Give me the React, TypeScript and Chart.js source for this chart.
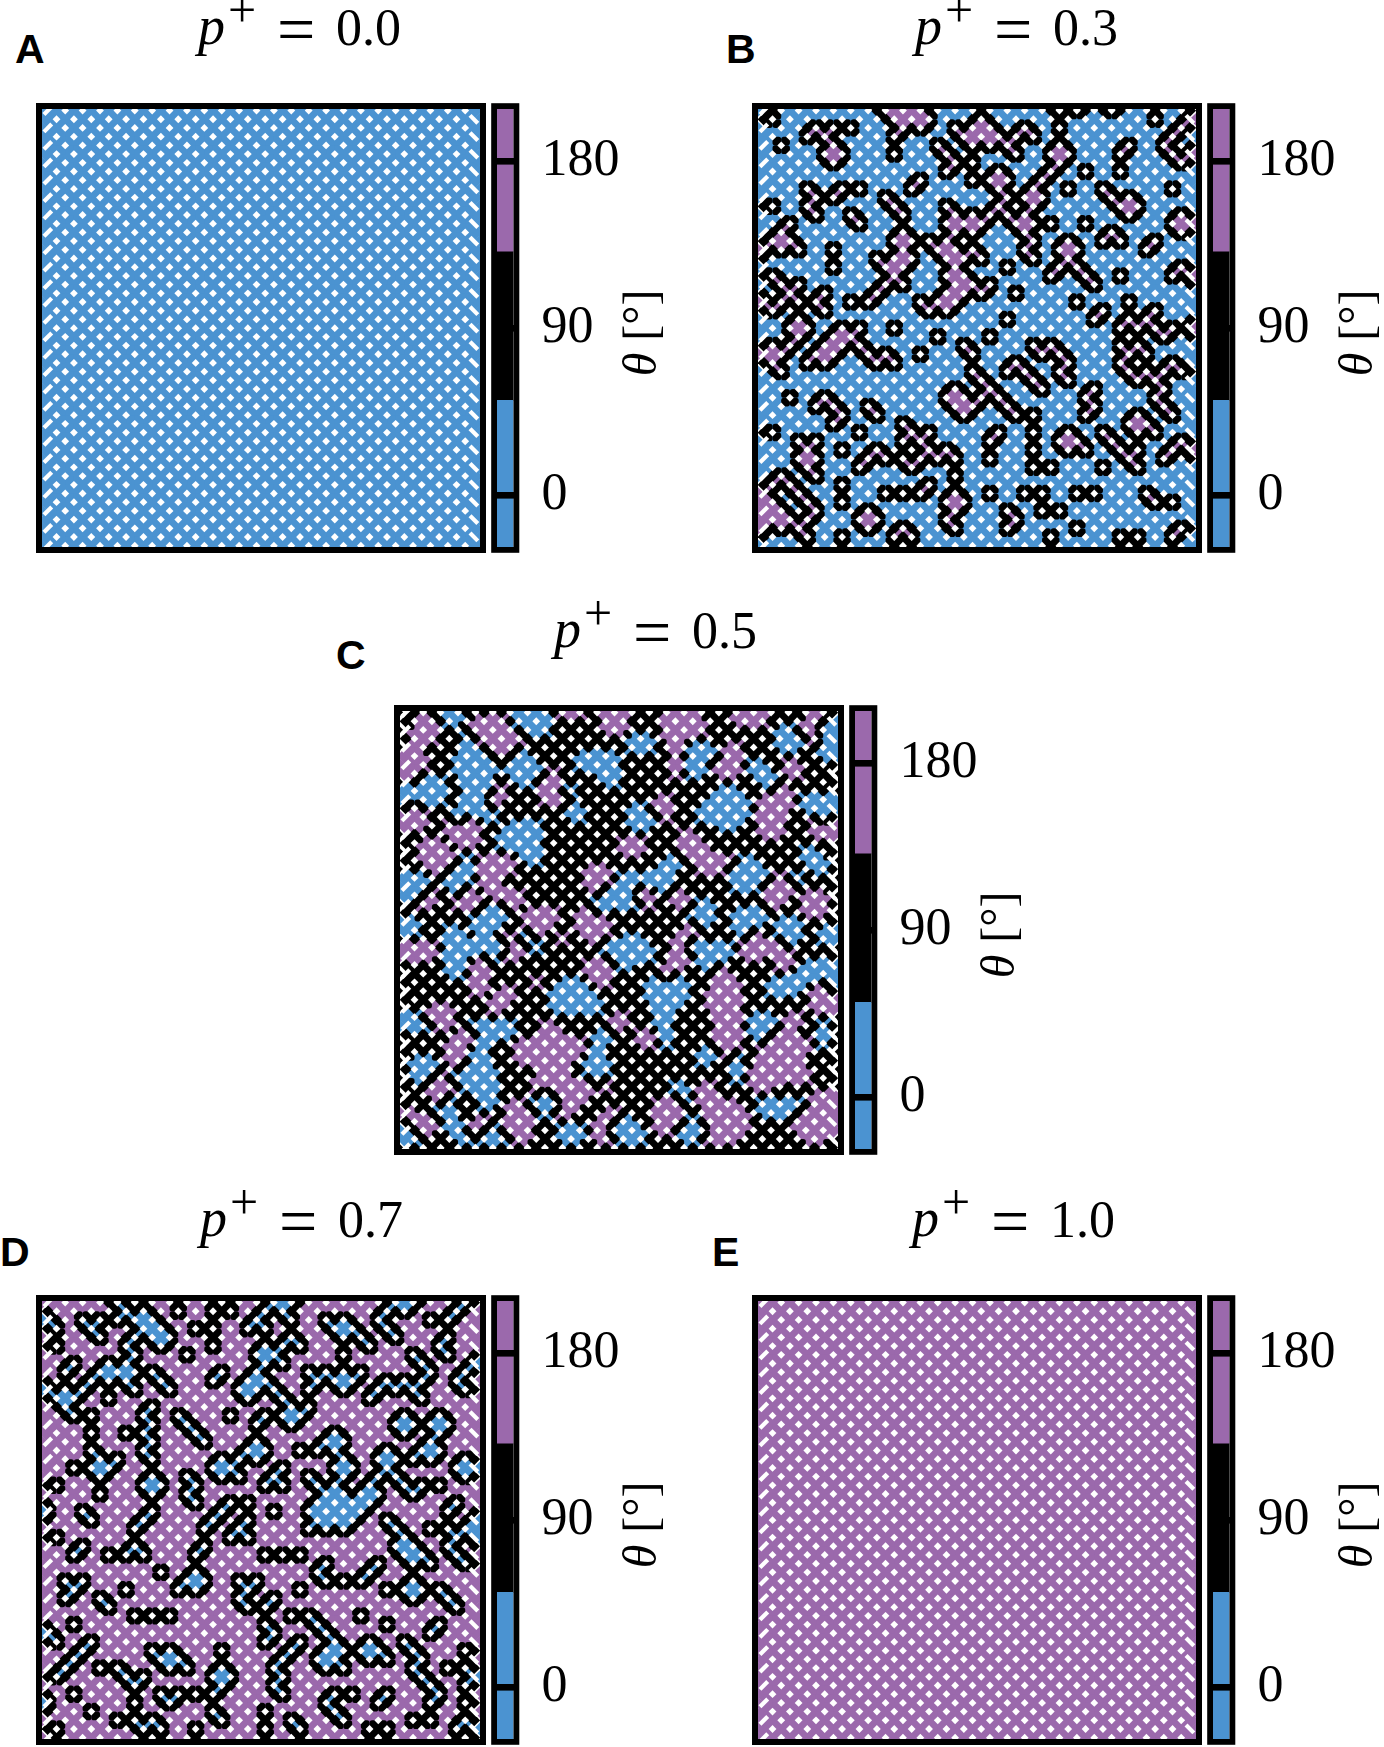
import React, { useEffect, useRef } from "react";
import { Chart, registerables } from "chart.js";
Chart.register(...registerables);

const BLUE = "#4b93d1";
const PURPLE = "#9b69ac";
const BLACK = "#000000";

const P_VALUES = ["0.0", "0.3", "0.5", "0.7", "1.0"];
const PANEL_LETTERS = ["A", "B", "C", "D", "E"];
const BAR_TICKS = [0, 90, 180];
const BAR_LOWS = [-28, 51, 131];
const BAR_HIGHS = [51, 131, 208];
const BAR_COLORS = [BLUE, BLACK, PURPLE];

// panel B: sites in the 180 state, per row [row, columns...]
const B_ROWS: number[][] = [
  [1, 15, 17, 19, 35, 37, 41],
  [2, 2, 16, 18, 20, 26, 46, 50],
  [3, 7, 9, 11, 17, 19, 23, 25, 27, 31, 35, 49],
  [4, 6, 8, 16, 24, 26, 28, 30, 32, 48],
  [5, 3, 9, 21, 25, 27, 29, 35, 43, 47],
  [6, 8, 10, 16, 22, 30, 34, 36, 42, 48, 50],
  [7, 9, 23, 25, 35, 49],
  [8, 22, 28, 34, 38, 42],
  [9, 19, 25, 27, 29, 33],
  [10, 6, 10, 12, 18, 28, 32, 36, 40, 48],
  [11, 7, 9, 15, 29, 31, 33, 41, 43],
  [12, 2, 6, 16, 22, 28, 32, 42, 44],
  [13, 7, 11, 17, 23, 25, 27, 29, 31, 43, 49],
  [14, 4, 12, 22, 24, 26, 30, 32, 34, 38, 48, 50],
  [15, 3, 17, 23, 25, 31, 41, 49],
  [16, 2, 4, 16, 18, 20, 22, 32, 36, 40, 42, 46],
  [17, 1, 3, 5, 9, 17, 21, 23, 25, 31, 35, 37, 45],
  [18, 14, 16, 18, 22, 24, 26, 32, 36],
  [19, 9, 15, 17, 23, 29, 35, 37, 49],
  [20, 2, 16, 22, 24, 34, 38, 42, 48, 50],
  [21, 3, 5, 15, 17, 23, 25, 27, 39],
  [22, 4, 8, 14, 22, 24, 26, 30],
  [23, 1, 3, 5, 7, 11, 13, 19, 21, 23, 37, 43],
  [24, 2, 8, 20, 22, 40, 46],
  [25, 5, 29, 39, 43, 45],
  [26, 4, 6, 10, 12, 16, 42, 44, 46, 48, 50],
  [27, 5, 9, 11, 21, 27, 47],
  [28, 2, 4, 8, 10, 12, 24, 32, 34, 42, 44],
  [29, 1, 3, 7, 9, 13, 15, 19, 25, 33, 35, 43, 45],
  [30, 2, 6, 8, 14, 16, 30, 36, 42, 48],
  [31, 3, 25, 29, 31, 35, 43, 45, 47, 49],
  [32, 26, 32, 36, 44, 46],
  [33, 23, 27, 33, 39, 47],
  [34, 4, 8, 22, 24, 26, 28, 38, 46],
  [35, 7, 9, 13, 23, 25, 29, 39, 47],
  [36, 10, 14, 24, 30, 32, 38, 44, 48],
  [37, 9, 17, 43, 45],
  [38, 2, 12, 18, 20, 28, 32, 36, 40, 44, 46],
  [39, 5, 7, 17, 19, 27, 35, 37, 41, 49],
  [40, 6, 10, 14, 20, 22, 32, 36, 38, 42, 44, 48, 50],
  [41, 5, 7, 13, 15, 17, 19, 21, 23, 27, 43, 47],
  [42, 6, 12, 18, 32, 34, 40, 44],
  [43, 3, 7, 23],
  [44, 2, 4, 10, 20],
  [45, 1, 5, 15, 17, 19, 23, 27, 31, 33, 37, 39, 45],
  [46, 2, 6, 10, 22, 24, 46, 48],
  [47, 1, 3, 7, 13, 23, 29, 33, 35],
  [48, 2, 4, 6, 12, 14, 22, 30],
  [49, 1, 3, 5, 13, 17, 23, 29, 37, 49],
  [50, 6, 10, 16, 18, 34, 42, 44, 48],
];

// panel D: sites in the 0 state, as column,row pairs
const D_SITES = `1,3 2,4 2,6 5,3 7,3 7,5 6,4 9,3 9,1 10,2 12,2 11,3 13,3 12,4 13,5 14,4 15,5 14,6 16,2 18,4 20,2 22,2 20,4 20,6 17,7 10,6 11,5 11,7 10,8 11,9 13,9 14,10 15,11 11,11 10,10 3,9 4,8 8,8 7,9 9,9 8,10 6,10 5,11 4,12 3,11 2,12 3,13 1,11 8,12 10,16 6,16 6,14 4,14 13,13 12,14 13,15 12,16 13,17 12,18 13,19 16,14 17,15 18,16 19,17 7,19 6,20 8,20 7,21 9,19 4,20 6,18 2,22 7,23 13,21 12,22 14,22 13,23 25,17 24,18 26,18 25,19 25,15 26,14 22,14 20,20 22,20 21,21 23,21 21,19 23,19 27,21 26,22 28,22 28,20 17,21 18,22 17,23 18,24 27,25 30,18 32,18 34,18 35,17 34,16 33,17 35,19 34,20 36,20 35,21 38,22 37,23 39,23 38,24 37,25 36,26 33,23 35,23 34,22 32,24 34,24 36,24 33,25 35,25 32,26 34,26 33,27 35,27 31,25 31,27 31,21 32,22 39,19 40,18 40,20 39,21 41,21 41,19 43,19 42,22 43,23 44,22 42,14 41,15 43,15 42,16 46,14 45,15 47,15 46,16 45,17 44,18 46,18 45,19 49,19 48,20 50,20 49,21 46,22 41,1 40,2 42,2 43,1 39,3 40,4 41,5 45,3 49,1 48,2 47,3 46,6 47,5 47,7 43,7 44,8 45,9 44,10 43,11 44,12 48,10 49,11 49,9 50,8 33,3 34,4 36,4 35,5 37,5 38,6 35,3 35,7 30,6 28,6 29,5 26,6 25,7 26,8 28,8 27,7 25,9 25,3 26,4 24,4 26,2 27,1 29,1 28,2 29,3 20,10 21,9 23,11 24,10 26,10 25,11 27,11 24,12 28,12 29,13 28,14 30,14 31,13 29,15 32,10 31,11 31,9 33,9 35,9 37,9 34,10 36,10 35,11 39,11 40,10 42,10 38,12 41,11 5,25 6,26 1,25 2,28 4,30 5,29 8,30 10,30 11,29 11,27 12,26 13,25 12,30 14,32 10,34 5,33 3,33 4,34 3,35 7,35 8,36 11,37 13,37 15,37 4,38 1,39 2,40 5,41 4,42 3,43 2,44 6,40 7,43 9,43 10,44 12,44 11,45 15,41 14,42 16,42 15,43 13,41 17,43 18,46 21,43 20,44 22,44 21,45 21,41 21,49 20,48 20,46 28,44 27,45 28,46 27,43 26,48 26,50 29,49 30,50 38,50 40,50 49,49 43,49 45,49 48,50 50,50 49,47 33,47 34,46 36,46 34,48 35,49 39,47 40,46 42,40 43,41 44,42 43,43 44,44 45,45 46,46 45,47 49,43 50,44 49,45 47,43 49,41 38,40 37,41 39,41 38,42 40,42 33,41 35,41 34,40 32,42 34,42 33,43 35,43 32,38 33,39 31,37 29,41 30,40 28,42 26,38 27,39 26,40 29,37 37,37 40,38 46,38 45,39 43,33 42,34 44,34 43,35 40,34 47,35 48,36 46,34 45,31 42,30 43,29 41,29 44,30 43,31 47,29 48,30 49,31 48,24 47,25 50,26 49,27 50,28 48,28 45,27 47,27 42,28 41,27 40,26 38,32 39,31 35,33 33,31 32,32 33,33 37,33 30,34 26,30 28,30 30,30 23,33 25,33 23,35 24,34 24,36 27,35 26,36 19,29 18,30 19,27 20,26 21,25 22,24 23,27 24,28 22,28 24,26 24,24 18,32 17,33 19,33 16,34 18,34 4,46 6,48 2,50 18,50 9,49 11,49 13,49 11,47 12,50 14,50 15,47 14,46 16,46 1,47`;

// panel C: sites read as 0 and as 180, everything else is in the 90 state
const C_BLUE_SITES = `15,1 17,1 14,2 16,2 15,3 17,3 6,0 5,1 7,1 6,2 8,4 9,7 8,6 10,6 7,7 11,7 8,8 10,8 9,9 8,10 10,10 9,11 8,12 7,13 14,6 13,7 15,7 14,8 16,8 15,9 3,9 5,9 2,10 4,10 1,11 3,11 5,11 24,6 23,7 25,7 22,6 21,7 24,8 25,9 28,4 27,5 29,5 35,5 34,6 36,6 35,7 34,8 45,3 44,4 46,4 45,5 49,5 50,4 50,6 49,3 50,2 41,7 42,8 43,9 38,10 37,11 39,11 36,12 38,12 40,12 35,13 37,13 39,13 38,14 47,11 49,11 48,12 50,12 49,13 28,12 27,13 29,13 28,14 20,10 20,12 21,13 13,15 15,15 14,14 16,14 12,16 14,16 16,16 15,17 16,18 10,12 11,13 7,19 8,18 8,20 6,20 7,21 2,20 1,21 3,21 2,22 24,22 23,23 25,23 27,23 26,22 26,20 28,20 27,21 30,20 31,19 32,18 31,21 40,18 39,19 41,19 40,20 42,20 41,21 39,21 47,17 48,18 49,19 46,20 35,23 34,24 36,24 35,25 39,25 40,24 42,24 41,25 40,26 44,26 46,26 45,25 45,27 49,27 50,26 10,24 9,25 11,25 12,24 10,26 11,29 10,28 12,28 7,27 6,26 7,29 6,28 6,30 7,31 8,28 2,26 1,25 26,28 27,27 25,29 27,29 26,30 24,28 28,28 29,29 34,28 35,29 37,29 36,28 38,28 36,30 16,28 15,27 20,32 19,33 21,33 20,34 18,34 22,34 19,35 21,35 23,35 30,32 29,33 31,33 33,33 30,34 32,34 31,35 30,36 32,32 31,37 31,39 43,33 44,32 45,33 46,32 47,31 48,30 49,31 50,32 50,30 9,37 11,37 12,38 13,37 10,38 9,41 10,40 10,42 8,42 9,43 11,43 10,44 11,45 7,43 8,44 10,46 3,41 2,42 4,42 3,43 41,37 42,36 43,37 42,38 39,41 39,43 22,42 23,41 24,42 23,43 23,39 24,38 32,44 33,45 32,46 35,41 36,40 17,47 16,46 18,46 17,45 6,46 5,47 6,48 26,48 27,49 28,50 26,50 25,49 34,48 35,49 33,49 34,50 2,50 1,49 11,49 12,50 10,50 19,49 20,50 21,49 43,47 42,46 44,46 45,47 46,46 49,37 49,39 2,36 3,37 1,37 8,50 7,49`;
const C_PURPLE_SITES = `3,3 2,4 4,4 3,1 4,2 2,6 1,7 2,8 3,7 9,3 11,3 10,2 12,2 10,4 12,4 11,5 13,5 12,6 14,4 19,1 20,0 21,1 22,0 24,2 25,1 26,2 25,3 24,0 31,1 33,1 32,0 32,2 34,2 31,3 33,3 35,3 36,0 32,4 41,1 40,2 42,2 39,1 48,2 47,3 49,1 48,4 38,6 37,7 39,7 38,8 39,5 32,6 32,8 18,8 17,9 18,10 19,11 17,11 12,10 11,11 2,12 1,13 3,13 2,14 8,14 7,15 9,15 6,14 8,16 4,16 4,18 5,17 3,17 5,19 6,18 31,11 31,13 30,12 43,11 44,10 42,12 44,12 45,11 46,8 45,7 48,14 49,15 50,14 43,15 44,14 42,14 33,15 34,16 35,17 33,17 35,19 36,18 37,19 38,18 27,17 26,16 28,16 23,19 22,20 24,20 23,21 29,23 28,22 32,22 33,23 10,18 12,18 11,19 13,19 10,20 11,21 12,22 13,23 14,22 8,22 7,23 9,23 3,23 4,22 15,25 17,25 16,24 18,24 16,26 22,24 21,25 23,25 22,26 24,26 23,27 19,27 48,22 47,23 49,23 48,24 44,20 43,21 43,23 44,22 45,21 33,27 34,26 40,28 41,27 42,28 41,29 2,28 3,29 1,29 4,28 9,31 10,30 9,33 10,32 22,30 23,31 24,30 24,32 32,28 32,30 31,31 33,29 45,29 44,28 44,30 38,32 37,33 39,33 38,34 36,34 37,35 39,35 38,36 37,37 39,37 38,38 37,31 49,33 48,34 50,34 49,35 46,36 45,37 12,34 11,35 13,33 5,35 4,36 6,36 5,37 7,39 6,40 7,41 8,38 15,39 14,40 16,40 15,41 17,41 19,41 18,38 17,39 20,40 19,39 21,39 17,37 25,37 26,36 29,39 28,38 17,43 19,43 16,44 18,44 20,44 22,44 19,45 21,45 24,44 20,46 19,47 27,42 29,42 31,42 33,42 35,42 28,43 36,44 35,45 36,46 36,48 31,47 30,46 32,46 31,49 32,48 30,48 5,43 4,44 6,44 5,45 14,48 13,47 15,47 14,46 13,49 15,49 14,50 2,48 3,49 1,47 4,48 24,48 23,49 25,47 24,50 38,46 39,47 37,47 38,48 40,48 37,49 39,49 38,50 36,50 43,41 42,42 44,40 44,42 45,41 43,43 42,44 41,43 45,43 46,42 47,43 46,40 47,39 43,39 42,40 44,38 45,39 49,47 48,46 48,48 50,46 49,45 47,47 49,49 48,50 46,48 47,49 50,48 38,40 37,39 39,39 16,32 13,27 14,28 13,29 9,49 10,48`;

const parsePairs = (s: string) => s.trim().split(/\s+/).map((p) => p.split(",").map(Number));
const rowsToPairs = (rows: number[][]) => rows.flatMap(([j, ...is]) => is.map((i) => [i, j]));

// lattice extent and state codes
const I_MAX = 50;
const J_MAX = 51;
const S_BLUE = 0, S_PURPLE = 1, S_MIX = 2;

function buildDatasets(defaultState: number, lists: [number, number[][]][]) {
  const st = new Map<string, number>();
  const key = (i: number, j: number) => i + "," + j;
  for (let j = 1; j <= J_MAX; j++) for (let i = 1; i <= I_MAX; i++) if ((i + j) % 2 === 0) st.set(key(i, j), defaultState);
  for (const [state, pairs] of lists) for (const [i, j] of pairs) if (st.has(key(i, j))) st.set(key(i, j), state);

  const tileB: any[] = [], tileP: any[] = [], tileK: any[] = [];
  for (let j = 0; j <= J_MAX + 1; j++) for (let i = 0; i <= I_MAX + 1; i++) {
    if ((i + j) % 2 === 0) continue;
    const c = [key(i - 1, j), key(i + 1, j), key(i, j - 1), key(i, j + 1)].map((k) => st.get(k)).filter((v) => v !== undefined);
    const nb = c.filter((v) => v === S_BLUE).length, np = c.filter((v) => v === S_PURPLE).length;
    const nm = c.filter((v) => v === S_MIX).length;
    const p = { x: i, y: j };
    if (!c.length) continue;
    if (nb === c.length || (nb >= 3 && defaultState !== S_PURPLE) || (nb >= 2 && np === 0 && nm > 0)) tileB.push(p);
    else if (np === c.length || (np >= 3 && defaultState !== S_BLUE) || (np >= 2 && nb === 0 && nm > 0)) tileP.push(p);
    else tileK.push(p);
  }
  const bondB: any[] = [], bondP: any[] = [], bondK: any[] = [];
  const holes: any[] = [], left: any[] = [], right: any[] = [];
  st.forEach((v, k) => {
    const [i, j] = k.split(",").map(Number);
    if (i === 1) left.push({ x: i, y: j });
    else if (i === I_MAX) right.push({ x: i, y: j });
    else holes.push({ x: i, y: j });
    for (const [a, b] of [[1, 1], [1, -1]]) {
      const o = st.get(key(i + a, j + b));
      if (o === undefined) continue;
      const p = { x: i + a / 2, y: j + b / 2 };
      const lo = Math.min(v, o as number), hi = Math.max(v, o as number);
      if (lo === S_BLUE && (hi === S_BLUE || hi === S_MIX)) bondB.push(p);
      else if (lo === S_PURPLE && (hi === S_PURPLE || hi === S_MIX)) bondP.push(p);
      else bondK.push(p);
    }
  });
  const layer = (data: any[], color: string, style: string, radius: number, extra: any = {}) => ({
    type: "scatter", data, showLine: false, clip: 0, pointStyle: style, pointRadius: radius, pointHoverRadius: radius,
    pointBackgroundColor: color, pointBorderColor: color, pointBorderWidth: 0, ...extra,
  });
  return [
    layer(holes, "#ffffff", "rectRot", 3.9, { order: 1 }),
    layer(left, "#ffffff", "line", 5.5, { order: 1, pointBorderWidth: 4.2, pointBorderColor: "#ffffff", pointRotation: -45 }),
    layer(right, "#ffffff", "line", 5.5, { order: 1, pointBorderWidth: 4.2, pointBorderColor: "#ffffff", pointRotation: 45 }),
    layer(bondK, BLACK, "rectRounded", 5.1, { order: 2 }),
    layer(tileK, BLACK, "rectRot", 6.2, { order: 3 }),
    layer(bondB, BLUE, "rect", 6.3, { order: 4 }),
    layer(bondP, PURPLE, "rect", 6.3, { order: 4 }),
    layer(tileB, BLUE, "rectRot", 9, { order: 5 }),
    layer(tileP, PURPLE, "rectRot", 9, { order: 5 }),
  ];
}

const framePlugin = (lw: number) => ({
  id: "frame",
  afterDraw(c: any) {
    const a = c.chartArea, ctx = c.ctx;
    ctx.save();
    ctx.strokeStyle = "#000";
    ctx.lineWidth = lw;
    ctx.strokeRect(a.left - lw / 2, a.top - lw / 2, a.right - a.left + lw, a.bottom - a.top + lw);
    ctx.restore();
  },
});

function Lattice({ left, top, defaultState, lists }: any) {
  const ref = useRef<HTMLCanvasElement>(null);
  useEffect(() => {
    const chart = new Chart(ref.current as any, {
      data: { datasets: buildDatasets(defaultState, lists) as any },
      options: {
        animation: false, responsive: false, events: [],
        layout: { padding: 6, autoPadding: false },
        plugins: { legend: { display: false }, tooltip: { enabled: false }, title: { display: false } },
        scales: {
          x: { type: "linear", display: false, min: 0.33, max: 50.7 },
          y: { type: "linear", display: false, reverse: true, min: 0.82, max: 51.15 },
        },
      } as any,
      plugins: [framePlugin(6)],
    });
    return () => chart.destroy();
  }, []);
  return <canvas ref={ref} width={450} height={450} style={{ position: "absolute", left, top, width: 450, height: 450 }} />;
}

function ColorBar({ left, top }: any) {
  const ref = useRef<HTMLCanvasElement>(null);
  useEffect(() => {
    const chart = new Chart(ref.current as any, {
      type: "bar",
      data: {
        labels: ["theta"],
        datasets: BAR_LOWS.map((lo, k) => ({
          data: [[lo, BAR_HIGHS[k]]], backgroundColor: BAR_COLORS[k], borderWidth: 0, grouped: false,
          barPercentage: 1, categoryPercentage: 1,
        })) as any,
      },
      options: {
        animation: false, responsive: false, events: [],
        layout: { padding: { left: 6, top: 6, bottom: 6, right: 0 }, autoPadding: false },
        plugins: { legend: { display: false }, tooltip: { enabled: false } },
        scales: {
          x: { display: false },
          y: {
            position: "right", min: -28, max: 208,
            afterBuildTicks: (s: any) => { s.ticks = BAR_TICKS.map((v) => ({ value: v })); },
            afterFit: (s: any) => { s.width = 150 - 6 - 16.5; s.paddingTop = 0; s.paddingBottom = 0; },
            ticks: { color: "#000", padding: 28, font: { family: "Liberation Serif", size: 52 }, align: "center" },
            grid: { color: "#000", lineWidth: 6.6, drawTicks: false, z: 1 },
            border: { display: false },
          },
        },
      } as any,
      plugins: [framePlugin(5.8)],
    });
    return () => chart.destroy();
  }, []);
  return <canvas ref={ref} width={150} height={450} style={{ position: "absolute", left, top, width: 150, height: 450 }} />;
}

const serif = "'Liberation Serif', serif";

function Title({ x, base, value }: any) {
  const piece = (dx: number, dy: number, size: number, text: string, italic = false) => (
    <span style={{ position: "absolute", left: x + dx, top: base + dy - size * 0.891, fontFamily: serif, fontSize: size, lineHeight: 1.107, fontStyle: italic ? "italic" : "normal", whiteSpace: "pre" }}>{text}</span>
  );
  return (
    <>
      {piece(0, 0, 54, "p", true)}
      {piece(30, -17, 50, "+")}
      {piece(79, 8, 68, "=")}
      {piece(138, 0, 52, value)}
    </>
  );
}

function Letter({ x, base, text }: any) {
  return <span style={{ position: "absolute", left: x, top: base - 41 * 0.905, fontFamily: "'Liberation Sans', sans-serif", fontWeight: 700, fontSize: 41, lineHeight: 1.15 }}>{text}</span>;
}

function AxisName({ cx, cy }: any) {
  return (
    <span style={{ position: "absolute", left: cx - 60, top: cy - 30, width: 120, height: 60, lineHeight: "60px", textAlign: "center", fontFamily: serif, fontSize: 48, transform: "rotate(-90deg)", whiteSpace: "pre" }}>
      <i>θ</i> [°]
    </span>
  );
}

const PANELS = [
  { fx: 36, fy: 103, state: S_BLUE, lists: [], tx: 198, tb: 45, lx: 15, lb: 63 },
  { fx: 751.5, fy: 103, state: S_BLUE, lists: [[S_PURPLE, rowsToPairs(B_ROWS)]], tx: 915, tb: 45, lx: 726, lb: 63 },
  { fx: 393.5, fy: 705, state: S_MIX, lists: [[S_BLUE, parsePairs(C_BLUE_SITES)], [S_PURPLE, parsePairs(C_PURPLE_SITES)]], tx: 554, tb: 648, lx: 336, lb: 669 },
  { fx: 35.5, fy: 1294.5, state: S_PURPLE, lists: [[S_BLUE, parsePairs(D_SITES)]], tx: 200, tb: 1237, lx: 0, lb: 1266 },
  { fx: 751.5, fy: 1294.5, state: S_PURPLE, lists: [], tx: 912, tb: 1237, lx: 712, lb: 1266 },
];

export default function App() {
  useEffect(() => { document.body.style.margin = "0"; }, []);
  return (
    <div style={{ position: "relative", width: 1384, height: 1747, background: "#fff", overflow: "hidden" }}>
      {PANELS.map((p, k) => (
        <React.Fragment key={k}>
          <Lattice left={p.fx} top={p.fy} defaultState={p.state} lists={p.lists} />
          <ColorBar left={p.fx + 455} top={p.fy} />
          <AxisName cx={p.fx + 604} cy={p.fy + 230} />
          <Title x={p.tx} base={p.tb} value={P_VALUES[k]} />
          <Letter x={p.lx} base={p.lb} text={PANEL_LETTERS[k]} />
        </React.Fragment>
      ))}
    </div>
  );
}
